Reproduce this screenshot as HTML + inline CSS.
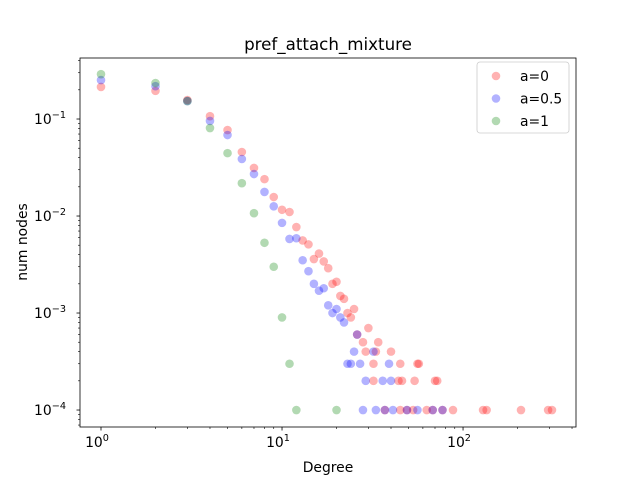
<!DOCTYPE html>
<html><head><meta charset="utf-8"><style>
body{margin:0;background:#fff}
svg{display:block;font-family:"DejaVu Sans","Liberation Sans",sans-serif}
</style></head><body>
<svg id="chart" width="640" height="480"></svg>
<script>
const redDeg=[1,2,3,4,5,6,7,8,9,10,11,12,13,14,15,16,17,18,19,20,21,22,23,24,25,26,28,29,30,33,34,32,40,45,56,57,32,44,46,54,70,72,37,45,49,53,63,68,77,88,129,135,209,295,310];
const redCnt=[2140,1950,1570,1070,770,457,313,240,157,116,110,77,56,51,36,41,34,29,20,21,15,14,10,9,11,6,5,4,7,4,5,3,4,3,3,3,2,2,2,2,2,2,1,1,1,1,1,1,1,1,1,1,1,1,1];
const blueDeg=[1,2,3,4,5,6,7,8,9,10,11,12,13,14,15,16,17,18,19,20,21,22,26,25,32,23,24,27,39,29,36,40,28,33,37,41,49,56,68,77];
const blueCnt=[2520,2180,1530,955,684,387,271,177,126,85,58,59,35,27,20,17,18,12,10,11,9,8,6,4,4,3,3,3,3,2,2,2,1,1,1,1,1,1,1,1];
const greenDeg=[1,2,3,4,5,6,7,8,9,10,11,12,20];
const greenCnt=[2900,2350,1530,807,445,218,107,53,30,9,3,1,1];
const total=10000;
const xTicks=["10","10","10"], xExp=["0","1","2"], yExp=["−1","−2","−3","−4"];

const NS="http://www.w3.org/2000/svg", svg=document.getElementById('chart');
const L=80,R=576,T=58,B=427;
const xmin=-0.116,xmax=2.624,ymin=-4.175,ymax=-0.371;
const sx=v=>L+(Math.log10(v)-xmin)/(xmax-xmin)*(R-L);
const sy=v=>B-(Math.log10(v)-ymin)/(ymax-ymin)*(B-T);
function el(t,a,p){const e=document.createElementNS(NS,t);for(const k in a)e.setAttribute(k,a[k]);(p||svg).appendChild(e);return e;}

const series=[["a=0",redDeg,redCnt,"#ff0000"],["a=0.5",blueDeg,blueCnt,"#0000ff"],["a=1",greenDeg,greenCnt,"#008000"]];
series.forEach((s,si)=>{
  const g=el('g',{});
  
  
  s[1].forEach((d,i)=>{
    const c=el('circle',{cx:sx(d),cy:sy(s[2][i]/total),r:4.3,fill:s[3],'fill-opacity':0.3},g);
    
    
  });
});

const fr=el('rect',{x:L,y:T,width:R-L,height:B-T,fill:'none',stroke:'#000','stroke-width':0.8});



for(let e=0;e<=2;e++){
  const x=sx(Math.pow(10,e));
  el('line',{x1:x,x2:x,y1:B,y2:B+3.5,stroke:'#000','stroke-width':0.8});
  const t=el('text',{x:x-4,y:B+20,'font-size':13.9,'text-anchor':'middle'});
  t.textContent=xTicks[e];
  
  
  const s=el('tspan',{dy:-6,'font-size':9.7},t);s.textContent=xExp[e];
  for(let m=2;m<10;m++){const v=m*Math.pow(10,e);if(Math.log10(v)>xmax)break;const xm=sx(v);el('line',{x1:xm,x2:xm,y1:B,y2:B+2,stroke:'#000','stroke-width':0.6});}
}
for(let e=-1;e>=-4;e--){
  const y=sy(Math.pow(10,e));
  el('line',{x1:L,x2:L-3.5,y1:y,y2:y,stroke:'#000','stroke-width':0.8});
  const t=el('text',{x:L-30,y:y+5,'font-size':13.9,'text-anchor':'middle'});
  t.textContent="10";
  
  
  const s=el('tspan',{dy:-6,'font-size':9.7},t);s.textContent=yExp[-e-1];
}
for(let e=-5;e<=-1;e++)for(let m=2;m<10;m++){const v=m*Math.pow(10,e),lv=Math.log10(v);if(lv<ymin||lv>ymax)continue;const y=sy(v);el('line',{x1:L,x2:L-2,y1:y,y2:y,stroke:'#000','stroke-width':0.6});}

const ti=el('text',{x:328,y:50,'font-size':16.7,'text-anchor':'middle'});ti.textContent="pref_attach_mixture";

const xl=el('text',{x:328,y:472,'font-size':13.9,'text-anchor':'middle'});xl.textContent="Degree";

const yl=el('text',{x:27,y:242,'font-size':13.9,'text-anchor':'middle',transform:'rotate(-90 27 242)'});yl.textContent="num nodes";


const lg=el('g',{});

el('rect',{x:477,y:62,width:92,height:71,rx:3,fill:'#fff','fill-opacity':0.8,stroke:'#ccc','stroke-width':0.8},lg);
series.forEach((s,i)=>{
  const y=76+i*22.5;
  const c=el('circle',{cx:496,cy:y,r:4.3,fill:s[3],'fill-opacity':0.3},lg);
  
  const t=el('text',{x:520,y:y+5,'font-size':13.9},lg);t.textContent=s[0];
  
});
</script>
</body></html>
